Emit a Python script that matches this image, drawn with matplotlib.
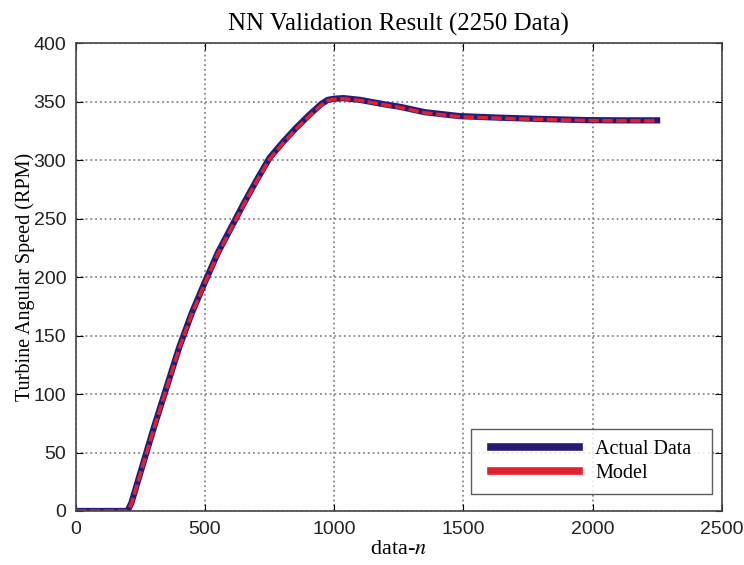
import numpy as np
import matplotlib.pyplot as plt
from matplotlib.legend_handler import HandlerLine2D

n = [0, 100, 200, 215, 250, 300, 350, 400, 450, 500, 550, 600, 650, 700, 750,
     800, 850, 900, 950, 975, 1000, 1036, 1100, 1200, 1254, 1350, 1486, 1641,
     1800, 1976, 2100, 2250]
actual = [0, 0, 0, 7, 33, 70, 105, 140, 170, 196, 221, 242, 263, 283, 302,
          315, 327, 338, 348, 351.5, 352.5, 353, 351.5, 347.5, 345.6, 341, 337.6, 336.3,
          335.2, 334.2, 334, 334]
model = [0, 0, 0, 6, 32, 69, 104, 139, 169, 195, 220, 241, 262, 282, 301,
         314, 326, 337, 347, 351, 352, 352.5, 351, 347, 345, 340.5, 337, 335.8,
         334.8, 333.8, 333.6, 333.6]

plt.rcParams['font.family'] = ['Liberation Sans', 'DejaVu Sans']
plt.rcParams['mathtext.fontset'] = 'stix'
serif = 'Liberation Serif'

fig = plt.figure(figsize=(7.44, 5.65), dpi=100)
ax = fig.add_axes([0.102, 0.0956, 0.868, 0.828])

ax.plot(n, actual, color='#2a1a78', lw=4.5, label='Actual Data')
ax.plot(n, model, color='#e0222e', lw=2.5, ls=(0, (3, 1)), label='Model')

ax.set_xlim(0, 2500)
ax.set_ylim(0, 400)
ax.set_xticks(np.arange(0, 2501, 500))
ax.set_yticks(np.arange(0, 401, 50))
ax.tick_params(direction='in', top=True, right=True, labelsize=14, length=5,
               labelcolor='#222222', pad=7)
ax.grid(True, ls=':', color='#888888', lw=1.3)
for s in ax.spines.values():
    s.set_linewidth(1.2)
    s.set_color('#444444')

ax.set_title('NN Validation Result (2250 Data)', family=serif, fontsize=18, pad=9)
ax.set_xlabel('data-$\\it{n}$', family=serif, fontsize=16, labelpad=2)
ax.set_ylabel('Turbine Angular Speed (RPM)', family=serif, fontsize=14.5, labelpad=-1.5)

leg = ax.legend(loc='lower right', bbox_to_anchor=(0.6115, 0.0363, 0.373, 0.2),
                mode='expand', borderaxespad=0,
                prop={'family': serif, 'size': 14.5}, fancybox=False, edgecolor='#333333',
                handlelength=4.83, handletextpad=0.8, borderpad=0.55, labelspacing=0.25,
                handler_map={plt.Line2D: HandlerLine2D(xpad=0.45)})
leg.get_frame().set_linewidth(1.0)
for h in leg.get_lines():
    h.set_linewidth(5.5)
    h.set_linestyle('-')

fig.savefig('out.png', dpi=100)
